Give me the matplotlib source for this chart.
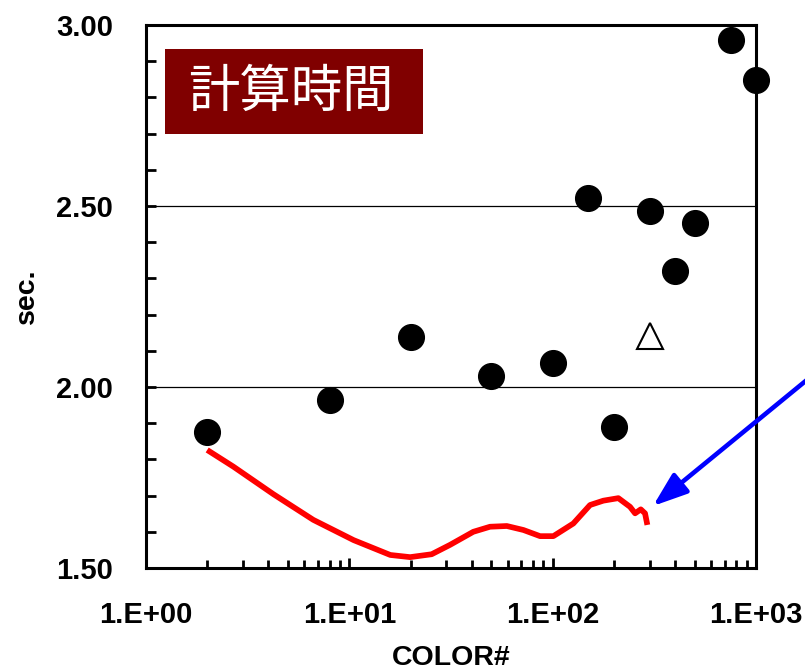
import matplotlib
matplotlib.use("Agg")
import matplotlib.pyplot as plt
from matplotlib.patches import Rectangle, FancyArrowPatch
from matplotlib.ticker import FixedLocator, MultipleLocator, LogLocator, NullFormatter, FixedFormatter

# ---- data ----
dot_x = [2, 8, 20, 50, 100, 150, 200, 300, 400, 500, 750, 1000]
dot_y = [1.876, 1.964, 2.138, 2.030, 2.066, 2.522, 1.890, 2.486, 2.320, 2.453, 2.959, 2.848]

tri_x = [300]
tri_y = [2.141]

line_x = [2.0, 2.69, 4.23, 6.65, 10.5, 15.9, 19.9, 25.4, 31.3, 40.7, 49.2, 59.5,
          71.8, 86.7, 100.8, 126.4, 152.7, 177.5, 210.4, 240.2, 254.3, 271.2, 284.6, 292.2]
line_y = [1.826, 1.780, 1.704, 1.633, 1.577, 1.536, 1.530, 1.538, 1.564, 1.600, 1.614, 1.616,
          1.605, 1.588, 1.588, 1.623, 1.674, 1.686, 1.693, 1.669, 1.651, 1.662, 1.651, 1.619]

xtick_vals = [1, 10, 100, 1000]
xtick_labels = ["1.E+00", "1.E+01", "1.E+02", "1.E+03"]
ytick_vals = [1.5, 2.0, 2.5, 3.0]
ytick_labels = ["1.50", "2.00", "2.50", "3.00"]

title_text = "計算時間"
xlabel = "COLOR#"
ylabel = "sec."

# ---- figure ----
plt.rcParams['font.family'] = ['Liberation Sans', 'DejaVu Sans']
fig = plt.figure(figsize=(8.05, 6.69), dpi=100)
ax = fig.add_axes([146/805, 1-568/669, 610/805, 543/669])

ax.set_xscale('log')
ax.set_xlim(1, 1000)
ax.set_ylim(1.5, 3.0)

ax.grid(axis='y', which='major', color='black', linewidth=0.9, zorder=1)

ax.plot(line_x, line_y, color='#ff0000', linewidth=4.1, solid_capstyle='butt',
        solid_joinstyle='round', zorder=3)
ax.plot(dot_x, dot_y, linestyle='none', marker='o', markersize=18.5,
        markerfacecolor='black', markeredgecolor='black', zorder=5, clip_on=False)
ax.plot(tri_x, tri_y, linestyle='none', marker='^', markersize=18.5,
        markerfacecolor='white', markeredgecolor='black', markeredgewidth=1.5, zorder=5)

for s in ax.spines.values():
    s.set_linewidth(2.2)
    s.set_zorder(4)

ax.xaxis.set_major_locator(FixedLocator(xtick_vals))
ax.xaxis.set_major_formatter(FixedFormatter(xtick_labels))
ax.xaxis.set_minor_locator(LogLocator(base=10, subs=[2, 3, 4, 5, 6, 7, 8, 9]))
ax.xaxis.set_minor_formatter(NullFormatter())
ax.yaxis.set_major_locator(FixedLocator(ytick_vals))
ax.yaxis.set_major_formatter(FixedFormatter(ytick_labels))
ax.yaxis.set_minor_locator(MultipleLocator(0.1))

ax.tick_params(axis='both', which='both', direction='in', top=False, right=False, width=2.0)
ax.tick_params(axis='x', which='major', length=7, pad=24)
ax.tick_params(axis='x', which='minor', length=5.5)
ax.tick_params(axis='y', which='major', length=7.5, pad=23.5)
ax.tick_params(axis='y', which='minor', length=7.5)
for lab in ax.get_xticklabels() + ax.get_yticklabels():
    lab.set_fontsize(21)
    lab.set_fontweight('bold')

ax.set_xlabel(xlabel, fontsize=20.5, fontweight='bold', labelpad=11)
ax.set_ylabel(ylabel, fontsize=20.5, fontweight='bold', labelpad=12)

# title box
fig.patches.append(Rectangle((165/805, 1-134/669), 258/805, 85/669,
                             transform=fig.transFigure, facecolor='#800000',
                             edgecolor='none', zorder=6))
fig.text(291/805, 1-92/669, title_text, color='white', fontsize=37,
         family=['Noto Sans CJK JP', 'DejaVu Sans'], ha='center', va='center', zorder=7)

# blue arrow
fig.add_artist(FancyArrowPatch(
    posA=(830/805, 1-361/669), posB=(653/805, 1-506/669),
    transform=fig.transFigure, arrowstyle='-|>,head_length=1.05,head_width=0.38',
    mutation_scale=20, color='#0000ff', linewidth=3.3, shrinkA=0, shrinkB=0, zorder=8))

fig.savefig('out.png', dpi=100)
